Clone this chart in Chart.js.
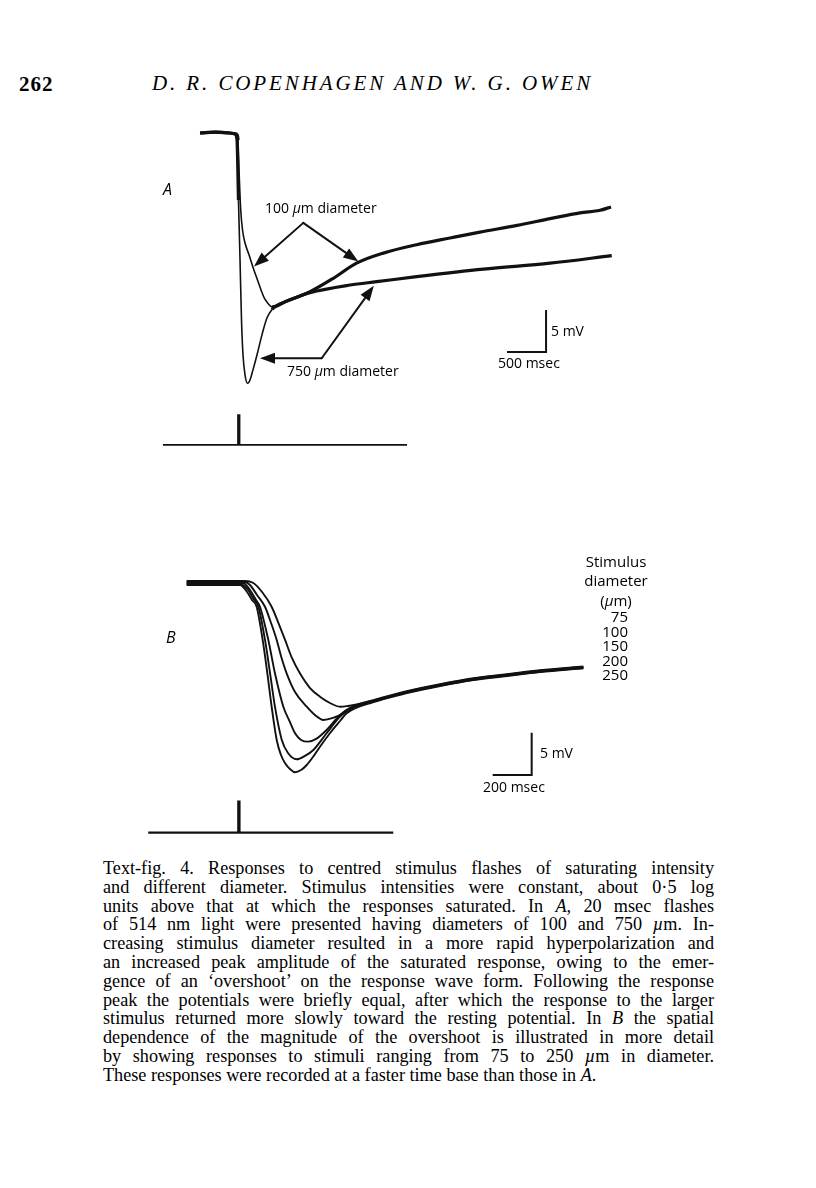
<!DOCTYPE html>
<html>
<head>
<meta charset="utf-8">
<script src="https://cdn.jsdelivr.net/npm/chart.js@4.4.1/dist/chart.umd.min.js"></script>
<style>
  html,body{margin:0;padding:0;background:#fff;}
  body{width:816px;height:1188px;position:relative;overflow:hidden;color:#000;font-family:"Open Sans",sans-serif;}
  .abs{position:absolute;white-space:nowrap;line-height:1;}
  .lbl{font-size:14px;}
  .big{font-size:16px;font-style:italic;}
  #cA{position:absolute;left:150px;top:110px;}
  #cB{position:absolute;left:140px;top:540px;}
  #pageno{left:19px;top:74px;font-family:"Liberation Serif",serif;font-weight:bold;font-size:21px;letter-spacing:1px;}
  #runhead{left:152px;top:73px;font-family:"Liberation Serif",serif;font-style:italic;font-size:21px;letter-spacing:2.9px;}
  #caption{position:absolute;left:103px;top:859px;width:611px;font-family:"Liberation Serif",serif;font-size:18.2px;line-height:18.8px;}
  #caption div{text-align:justify;text-align-last:justify;white-space:nowrap;}
  #caption div.last{text-align-last:left;}
  .legB{font-size:15px;}
</style>
</head>
<body>
<div id="pageno" class="abs">262</div>
<div id="runhead" class="abs">D. R. COPENHAGEN AND W. G. OWEN</div>

<canvas id="cA" width="480" height="350"></canvas>
<canvas id="cB" width="500" height="310"></canvas>

<!-- Panel A labels -->
<div class="abs big" style="left:163px;top:181px;">A</div>
<div class="abs lbl" style="left:265px;top:201px;">100 <i>µ</i>m diameter</div>
<div class="abs lbl" style="left:287px;top:364px;">750 <i>µ</i>m diameter</div>
<div class="abs lbl" style="left:551px;top:324px;">5 mV</div>
<div class="abs lbl" style="left:498px;top:356px;">500 msec</div>

<!-- Panel B labels -->
<div class="abs big" style="left:166px;top:629px;">B</div>
<div class="abs lbl" style="left:540px;top:746px;">5 mV</div>
<div class="abs lbl" style="left:483px;top:780px;">200 msec</div>
<div id="legendB"></div>

<div id="caption">
<div>Text-fig. 4. Responses to centred stimulus flashes of saturating intensity</div>
<div>and different diameter. Stimulus intensities were constant, about 0·5 log</div>
<div>units above that at which the responses saturated. In <i>A</i>, 20 msec flashes</div>
<div>of 514 nm light were presented having diameters of 100 and 750 <i>µ</i>m. In-</div>
<div>creasing stimulus diameter resulted in a more rapid hyperpolarization and</div>
<div>an increased peak amplitude of the saturated response, owing to the emer-</div>
<div>gence of an ‘overshoot’ on the response wave form. Following the response</div>
<div>peak the potentials were briefly equal, after which the response to the larger</div>
<div>stimulus returned more slowly toward the resting potential. In <i>B</i> the spatial</div>
<div>dependence of the magnitude of the overshoot is illustrated in more detail</div>
<div>by showing responses to stimuli ranging from 75 to 250 <i>µ</i>m in diameter.</div>
<div class="last">These responses were recorded at a faster time base than those in <i>A</i>.</div>
</div>

<script>
// ---------------- Panel A data (time in msec from flash, potential in mV from rest) ----------------
const tA100 = [-487,-295,-103,-38,-9,0,13,35,58,90,141,196,250,300,340,385,436,500,603,795,923,1222,1520,1863,2291,2718,3102,3577,4000,4384,4641,4782];
const vA100 = [0,0.1,0,-0.1,-0.24,-0.83,-4.4,-9.17,-11.55,-13.1,-14.5,-16.1,-17.5,-18.8,-19.7,-20.3,-20.7,-20.6,-20.1,-19.4,-18.9,-17.3,-15.5,-14.3,-13.3,-12.5,-11.8,-11.0,-10.2,-9.5,-9.2,-8.8];
const tA750 = [-487,-295,-103,-38,-13,6,26,45,64,90,122,154,192,244,308,372,436,487,603,795,923,1436,1778,2291,3146,4000,4791];
const vA750 = [0,0.1,0,-0.1,-0.8,-8.0,-15.1,-22.3,-26.4,-28.8,-29.8,-29.4,-28.2,-26.4,-24.0,-22.0,-21.0,-20.6,-20.1,-19.4,-19.0,-18.1,-17.7,-17.1,-16.2,-15.5,-14.6];
// stimulus monitor trace A (20 msec flash)
const tStimA = [-962,0,0,20,20,2167];
const vStimA = [-37.14,-37.14,-33.57,-33.57,-37.14,-37.14];
// calibration bar A: 500 msec, 5 mV
const calA = {t:3449, v:-26.07, dt:500, dv:5};
// arrows A: [fromT, fromV, toT, toV]
const arrowsA = [[837,-10.7,205,-15.9],[837,-10.7,1542,-15.3],[1073,-26.82,282,-26.82],[1073,-26.82,1741,-18.2]];

// ---------------- Panel B data ----------------
const diamB = ['75','100','150','200','250'];
const tB75  = [-265,-94,34,75,122,171,204,240,275,316,368,419,470,522,563,607,693,864,1035,1206,1377,1548,1770];
const vB75  = [0.2,0.2,0.2,0,-1.1,-2.84,-4.65,-6.77,-8.9,-10.71,-12.45,-13.48,-14.22,-14.66,-14.57,-14.4,-13.88,-12.82,-11.99,-11.29,-10.81,-10.34,-9.9];
const tB100 = [-265,34,60,96,137,168,197,219,248,291,351,393,436,486,539,607,693,864,1035,1206,1377,1548,1770];
const vB100 = [0.08,0.08,-0.27,-1.45,-2.84,-4.76,-6.77,-8.66,-10.71,-12.92,-14.66,-15.64,-16.23,-15.99,-15.44,-14.5,-13.95,-12.88,-12.05,-11.36,-10.87,-10.4,-9.96];
const tB150 = [-265,24,60,91,111,154,188,231,265,291,322,359,399,453,522,573,693,864,1035,1206,1377,1548,1770];
const vB150 = [-0.04,-0.04,-0.86,-2.04,-2.84,-6.77,-10.71,-14.66,-16.47,-17.8,-18.59,-18.79,-18.47,-17.41,-15.64,-14.81,-14.0,-12.95,-12.12,-11.42,-10.94,-10.47,-10.03];
const tB200 = [-265,9,50,75,103,137,163,188,223,256,300,342,385,453,522,573,693,864,1035,1206,1377,1548,1770];
const vB200 = [-0.15,-0.15,-0.86,-1.81,-2.84,-6.77,-10.71,-14.66,-18.59,-20.17,-20.88,-20.48,-19.78,-17.8,-15.84,-14.93,-14.06,-13.0,-12.17,-11.47,-10.99,-10.52,-10.08];
const tB250 = [-265,9,45,70,94,125,149,171,197,219,240,265,291,322,351,383,419,470,522,556,693,864,1035,1206,1377,1548,1770];
const vB250 = [-0.27,-0.27,-1.1,-2.04,-2.84,-6.77,-10.71,-14.66,-18.59,-20.37,-21.35,-22.02,-22.41,-22.14,-21.55,-20.6,-19.39,-17.8,-16.35,-15.44,-14.12,-13.06,-12.22,-11.52,-11.04,-10.57,-10.13];
// stimulus monitor trace B
const tStimB = [-462,0,0,6,6,795];
const vStimB = [-29.55,-29.55,-25.89,-25.89,-29.55,-29.55];
// calibration bar B: 200 msec, 5 mV
const calB = {t:1305, v:-22.73, dt:200, dv:5};

// ---------------- helpers ----------------
const pts = (t,v) => t.map((x,i)=>({x:x,y:v[i]}));
const calPts = c => [{x:c.t,y:c.v},{x:c.t+c.dt,y:c.v},{x:c.t+c.dt,y:c.v+c.dv}];
const INK = '#111';

const arrowPlugin = {
  id:'arrows',
  afterDatasetsDraw(chart, args, opts){
    const list = opts.list || [];
    const ctx = chart.ctx, xs = chart.scales.x, ys = chart.scales.y;
    ctx.save();
    ctx.strokeStyle = INK; ctx.fillStyle = INK; ctx.lineWidth = 2; ctx.lineCap='round';
    list.forEach(a=>{
      const x0=xs.getPixelForValue(a[0]), y0=ys.getPixelForValue(a[1]);
      const x1=xs.getPixelForValue(a[2]), y1=ys.getPixelForValue(a[3]);
      const ang=Math.atan2(y1-y0,x1-x0), L=15, W=5.5;
      const bx=x1-L*Math.cos(ang), by=y1-L*Math.sin(ang);
      ctx.beginPath(); ctx.moveTo(x0,y0); ctx.lineTo(bx,by); ctx.stroke();
      ctx.beginPath(); ctx.moveTo(x1,y1);
      ctx.lineTo(bx+W*Math.sin(ang), by-W*Math.cos(ang));
      ctx.lineTo(bx-W*Math.sin(ang), by+W*Math.cos(ang));
      ctx.closePath(); ctx.fill();
    });
    ctx.restore();
  }
};

function baseOptions(xmin,xmax,ymin,ymax,arrows){
  return {
    responsive:false, animation:false, devicePixelRatio:1,
    layout:{padding:0},
    plugins:{legend:{display:false}, tooltip:{enabled:false}, arrows:{list:arrows}},
    elements:{point:{radius:0}},
    scales:{
      x:{type:'linear', min:xmin, max:xmax, display:false},
      y:{type:'linear', min:ymin, max:ymax, display:false}
    }
  };
}

const widthA = ctx => (ctx.p0.parsed.x >= 0 && ctx.p1.parsed.x <= 460) ? 1.6 : 3.2;

// Panel A: 1 px = 12.82 msec, 1 mV = 8.4 px
new Chart(document.getElementById('cA'), {
  type:'line',
  data:{datasets:[
    {label:'100 µm diameter', data:pts(tA100,vA100), borderColor:INK, borderWidth:3, cubicInterpolationMode:'monotone', segment:{borderWidth:widthA}},
    {label:'750 µm diameter', data:pts(tA750,vA750), borderColor:INK, borderWidth:3, cubicInterpolationMode:'monotone', segment:{borderWidth:widthA}},
    {label:'stimulus', data:pts(tStimA,vStimA), borderColor:INK, borderWidth:1.7, tension:0},
    {label:'calibration', data:calPts(calA), borderColor:INK, borderWidth:2, tension:0}
  ]},
  options: baseOptions(-1128, 5025, -38.93, 2.738, arrowsA),
  plugins:[arrowPlugin]
});

// Panel B: 1 px = 5.13 msec, 1 mV = 8.46 px
const seriesB = [[tB75,vB75],[tB100,vB100],[tB150,vB150],[tB200,vB200],[tB250,vB250]];
const dsB = seriesB.map((s,i)=>({label:diamB[i]+' µm', data:pts(s[0],s[1]), borderColor:INK, borderWidth:1.9, cubicInterpolationMode:'monotone'}));
dsB.push({label:'stimulus', data:pts(tStimB,vStimB), borderColor:INK, borderWidth:2.2, tension:0});
dsB.push({label:'calibration', data:calPts(calB), borderColor:INK, borderWidth:2, tension:0});
new Chart(document.getElementById('cB'), {
  type:'line',
  data:{datasets:dsB},
  options: baseOptions(-504.3, 2060.7, -31.6, 5.047, []),
  plugins:[arrowPlugin]
});

// legend text for panel B
const legB = document.getElementById('legendB');
const heads = [['Stimulus',554],['diameter',573],['(<i>µ</i>m)',593]];
heads.forEach(h=>{
  const d=document.createElement('div'); d.className='abs legB';
  d.style.left='566px'; d.style.width='100px'; d.style.textAlign='center';
  d.style.top=h[1]+'px'; d.innerHTML=h[0]; legB.appendChild(d);
});
diamB.forEach((lab,i)=>{
  const d=document.createElement('div'); d.className='abs legB';
  d.style.left='578px'; d.style.width='50px'; d.style.textAlign='right';
  d.style.top=(609+i*14.5)+'px'; d.textContent=lab; legB.appendChild(d);
});
</script>
</body>
</html>
